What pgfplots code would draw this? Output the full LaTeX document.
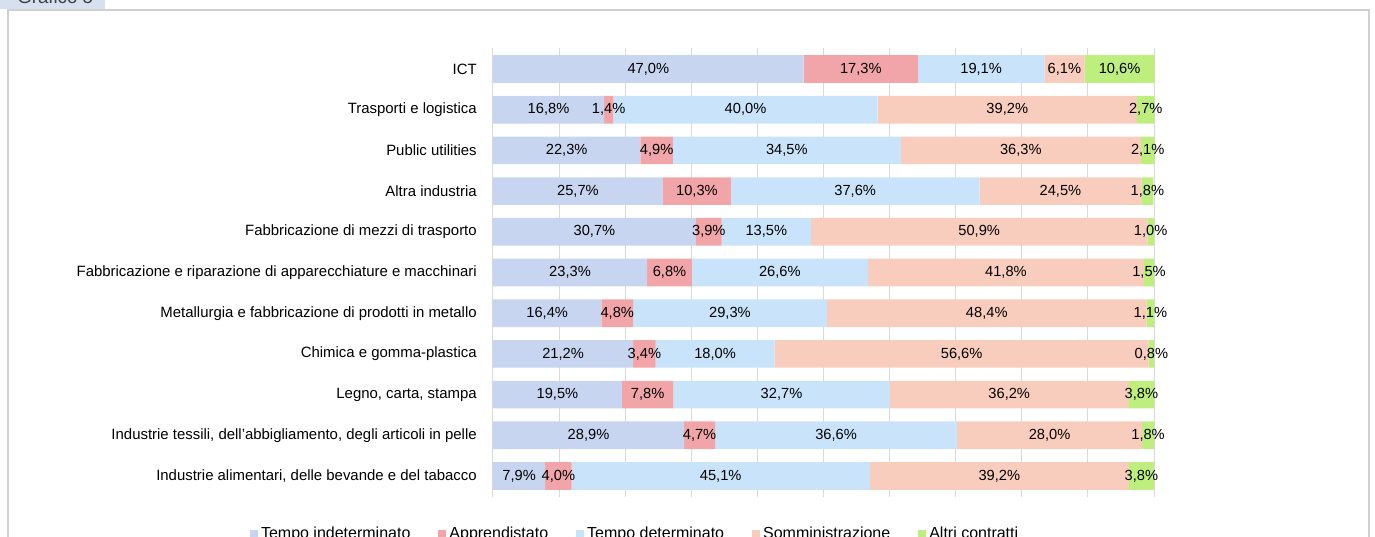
\documentclass[border=0pt]{standalone}
\usepackage{fontspec}
\setmainfont{Liberation Sans}
\usepackage{pgfplots}
\pgfplotsset{compat=1.18}
\usepackage{pgfplotstable}

\definecolor{cTI}{RGB}{200,213,240}
\definecolor{cAP}{RGB}{242,165,168}
\definecolor{cTD}{RGB}{201,228,250}
\definecolor{cSO}{RGB}{249,205,189}
\definecolor{cAL}{RGB}{189,238,126}
\definecolor{gridgray}{RGB}{217,217,217}
\definecolor{framegray}{RGB}{208,208,208}
\definecolor{tabblue}{RGB}{214,224,238}

\pgfplotstableread{
y ti app td som altri
0 7.9 4.0 45.1 39.2 3.8
1 28.9 4.7 36.6 28.0 1.8
2 19.5 7.8 32.7 36.2 3.8
3 21.2 3.4 18.0 56.6 0.8
4 16.4 4.8 29.3 48.4 1.1
5 23.3 6.8 26.6 41.8 1.5
6 30.7 3.9 13.5 50.9 1.0
7 25.7 10.3 37.6 24.5 1.8
8 22.3 4.9 34.5 36.3 2.1
9 16.8 1.4 40.0 39.2 2.7
10 47.0 17.3 19.1 6.1 10.6
}\datatable

\newcommand\lblfont{\fontsize{11}{13}\selectfont}
\newcommand\catfont{\fontsize{11.2}{13}\selectfont}
\newcommand\legfont{\fontsize{12}{14}\selectfont}

\begin{document}
\begin{tikzpicture}
\path[use as bounding box] (0,0) rectangle (1031.25pt,402pt);
\clip (0,0) rectangle (1031.25pt,402pt);
% frame and tab
\draw[framegray, line width=0.9pt] (6pt,-10pt) -- (6pt,394.5pt) -- (1026.75pt,394.5pt) -- (1026.75pt,-10pt);
\fill[tabblue] (0pt,395.25pt) rectangle (78.75pt,410pt);
\node[anchor=base west, inner sep=0pt, text=black!75, font=\fontsize{14}{16}\selectfont] at (12.75pt,399.4pt) {Grafico 5};
\begin{axis}[
  at={(369.75pt,29.25pt)}, anchor=south west,
  scale only axis, width=496.25pt, height=336.75pt,
  xbar stacked, bar width=0.68,
  xmin=0, xmax=100.1, ymin=-0.516, ymax=10.516,
  xtick={0,10,...,100}, xticklabel style={text opacity=0},
  xmajorgrids, major grid style={draw=gridgray, line width=0.75pt},
  ytick={0,...,10},
  yticklabels={Industrie alimentari{,} delle bevande e del tabacco,
    Industrie tessili{,} dell’abbigliamento{,} degli articoli in pelle,
    {Legno, carta, stampa},
    Chimica e gomma-plastica,
    Metallurgia e fabbricazione di prodotti in metallo,
    Fabbricazione e riparazione di apparecchiature e macchinari,
    Fabbricazione di mezzi di trasporto,
    Altra industria,
    Public utilities,
    Trasporti e logistica,
    ICT},
  major tick length=0pt,
  axis line style={draw=none},
  yticklabel style={inner sep=0pt, font=\catfont, text=black},
  yticklabel shift=12pt,
  clip=false,
  nodes near coords={\pgfmathprintnumber{\pgfplotspointmeta}\%},
  nodes near coords style={font=\lblfont, text=black, inner sep=0pt},
  /pgf/number format/.cd, fixed, fixed zerofill, precision=1, use comma, assume math mode=true,
  /pgfplots/.cd,
  legend columns=5,
  legend cell align=left,
  legend style={at={(-0.3676,-0.0657)}, anchor=north west, draw=none, fill=none,
    font=\legfont, inner sep=0pt, nodes={inner sep=0pt},
    /tikz/every even column/.append style={column sep=21pt}},
  legend image code/.code={\fill[#1] (0pt,-3pt) rectangle (6pt,3pt); \path (0pt,0pt) -- (8.25pt,0pt);},
]
\addplot[fill=cTI, draw=none] table[x=ti, y=y] {\datatable};
\addplot[fill=cAP, draw=none] table[x=app, y=y] {\datatable};
\addplot[fill=cTD, draw=none] table[x=td, y=y] {\datatable};
\addplot[fill=cSO, draw=none] table[x=som, y=y] {\datatable};
\addplot[fill=cAL, draw=none] table[x=altri, y=y] {\datatable};
\legend{Tempo indeterminato, Apprendistato, Tempo determinato, Somministrazione, Altri contratti}
\end{axis}
\end{tikzpicture}
\end{document}
